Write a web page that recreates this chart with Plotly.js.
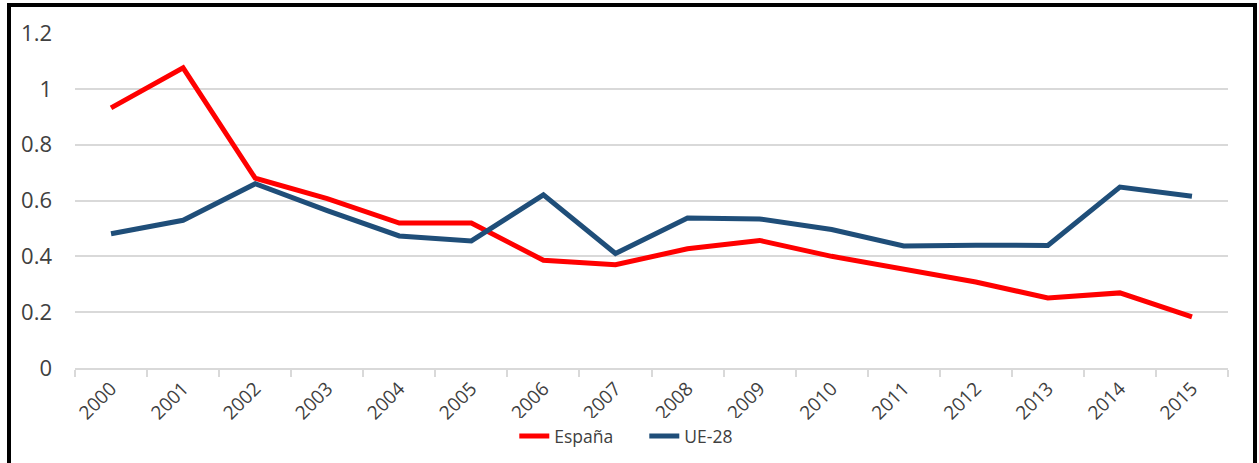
<!DOCTYPE html>
<html><head><meta charset="utf-8">
<script src="https://cdn.plot.ly/plotly-3.0.1.min.js"></script>
<style>
html,body{margin:0;padding:0;background:#fff;}
#chart{position:absolute;left:0;top:0;width:1259px;height:463px;}
#frame{position:absolute;left:7px;top:3px;width:1242px;height:480px;border:4px solid #000;pointer-events:none;}
</style></head>
<body>
<div id="chart"></div>
<div id="frame"></div>
<script>
const years = ['2000','2001','2002','2003','2004','2005','2006','2007','2008','2009','2010','2011','2012','2013','2014','2015'];
const espana = [0.932,1.075,0.68,0.607,0.519,0.519,0.386,0.370,0.427,0.457,0.40,0.356,0.308,0.251,0.269,0.183];
const ue28 = [0.481,0.529,0.66,0.564,0.473,0.455,0.620,0.41,0.537,0.534,0.496,0.437,0.44,0.439,0.648,0.615];
const yTicks = [0,0.2,0.4,0.6,0.8,1,1.2];
const yTickText = ['0','0.2','0.4','0.6','0.8','1','1.2'];

const xfont = {family:'Open Sans, sans-serif', size:19, color:'#404040'};
const data = [
  {x:years, y:espana, name:'España', type:'scatter', mode:'lines', line:{color:'#FF0000', width:5}},
  {x:years, y:ue28, name:'UE-28', type:'scatter', mode:'lines', line:{color:'#1F4E79', width:5}}
];
const layout = {
  width:1259, height:463,
  margin:{l:75, r:31, t:33, b:95, autoexpand:false},
  paper_bgcolor:'#fff', plot_bgcolor:'#fff',
  font:xfont,
  showlegend:true,
  legend:{orientation:'h', x:0.381, xanchor:'left', y:-0.203, yanchor:'middle', itemwidth:30, entrywidth:85,
          font:{family:'Open Sans, sans-serif', size:17.5, color:'#404040'}},
  xaxis:{type:'category', range:[-0.5,15.5], tickangle:-45, tickson:'boundaries', ticks:'outside', ticklen:7, tickcolor:'#d9d9d9', tickwidth:2,
         showline:true, linecolor:'#d9d9d9', linewidth:2, showgrid:false, zeroline:false, fixedrange:true, tickfont:xfont, automargin:false},
  yaxis:{range:[0,1.2], tickvals:yTicks, ticktext:yTickText, showgrid:true, gridcolor:'#d9d9d9', gridwidth:2,
         zeroline:false, showline:false, ticks:'', ticklabelstandoff:22, tickfont:{family:'Open Sans, sans-serif', size:22, color:'#404040'}, fixedrange:true, automargin:false}
};
Plotly.newPlot('chart', data, layout, {displayModeBar:false, staticPlot:true});
</script>
</body></html>
